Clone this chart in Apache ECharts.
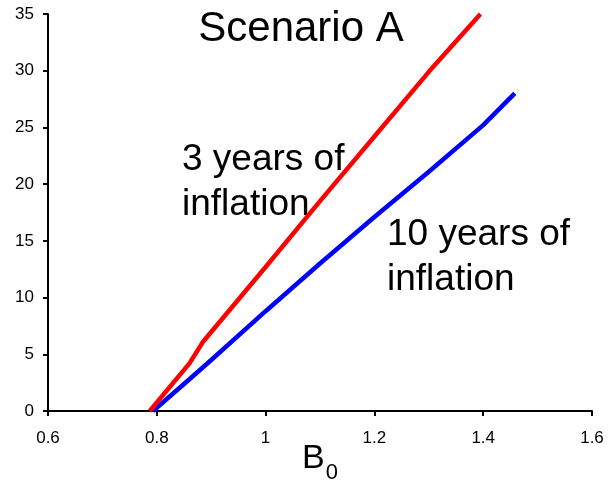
<!DOCTYPE html>
<html>
<head>
<meta charset="utf-8">
<script src="https://cdn.jsdelivr.net/npm/echarts@6/dist/echarts.min.js"></script>
<style>
  html, body { margin: 0; padding: 0; background: #fff; }
  #chart { width: 608px; height: 482px; }
</style>
</head>
<body>
<div id="chart"></div>
<script>
// values: [B0, value]
var threeYears = [[0.787, 0], [0.86, 4.2], [0.885, 6.1], [1.0, 12.7], [1.1, 18.5], [1.2, 24.2], [1.3, 29.9], [1.395, 35]];
var tenYears = [[0.793, 0], [0.86, 2.8], [0.9, 4.5], [1.0, 8.8], [1.1, 13.0], [1.2, 17.1], [1.3, 21.1], [1.4, 25.2], [1.458, 28.0]];
var xTicks = { min: 0.6, max: 1.6, step: 0.2 };
var yTicks = { min: 0, max: 35, step: 5 };

var font = 'Liberation Sans, Arial, sans-serif';
var myChart = echarts.init(document.getElementById('chart'));

var option = {
  animation: false,
  backgroundColor: '#fff',
  textStyle: { fontFamily: font },
  title: {
    text: 'Scenario A',
    left: 296, top: 3,
    textAlign: 'center',
    textStyle: { fontSize: 42, fontWeight: 'normal', color: '#000', fontFamily: font }
  },
  grid: { left: 48, right: 16, top: 14, bottom: 71, outerBoundsMode: 'none', containLabel: false },
  xAxis: {
    type: 'value',
    min: xTicks.min, max: xTicks.max, interval: xTicks.step,
    axisLine: { lineStyle: { color: '#000', width: 2 } },
    axisTick: { show: true, length: 5, lineStyle: { color: '#000', width: 2 } },
    axisLabel: { color: '#000', fontSize: 17, margin: 19, fontFamily: font },
    splitLine: { show: false },
    name: '{b|B}{s|0}',
    nameLocation: 'middle',
    nameGap: 31,
    nameMoveOverlap: false,
    nameTextStyle: {
      rich: {
        b: { fontSize: 34, lineHeight: 36, color: '#000', fontFamily: font, verticalAlign: 'top' },
        s: { fontSize: 22, lineHeight: 24, color: '#000', fontFamily: font, verticalAlign: 'top', padding: [20, 0, 0, 1] }
      }
    }
  },
  yAxis: {
    type: 'value',
    min: yTicks.min, max: yTicks.max, interval: yTicks.step,
    axisLine: { show: true, lineStyle: { color: '#000', width: 2 } },
    axisTick: { show: true, length: 5, lineStyle: { color: '#000', width: 2 } },
    axisLabel: { color: '#000', fontSize: 17, margin: 14, fontFamily: font },
    splitLine: { show: false }
  },
  graphic: [
    { type: 'text', left: 182, top: 137, style: { text: '3 years of\ninflation', font: '37px ' + font, fill: '#000', lineHeight: 45 } },
    { type: 'text', left: 387, top: 212, style: { text: '10 years of\ninflation', font: '37px ' + font, fill: '#000', lineHeight: 45 } }
  ],
  series: [
    { type: 'line', name: '3 years', data: threeYears, showSymbol: false, lineStyle: { color: '#ff0000', width: 4.5 }, itemStyle: { color: '#ff0000' }, z: 3 },
    { type: 'line', name: '10 years', data: tenYears, showSymbol: false, lineStyle: { color: '#0000ff', width: 4.5 }, itemStyle: { color: '#0000ff' }, z: 2 }
  ]
};
option && myChart.setOption(option);
</script>
</body>
</html>
